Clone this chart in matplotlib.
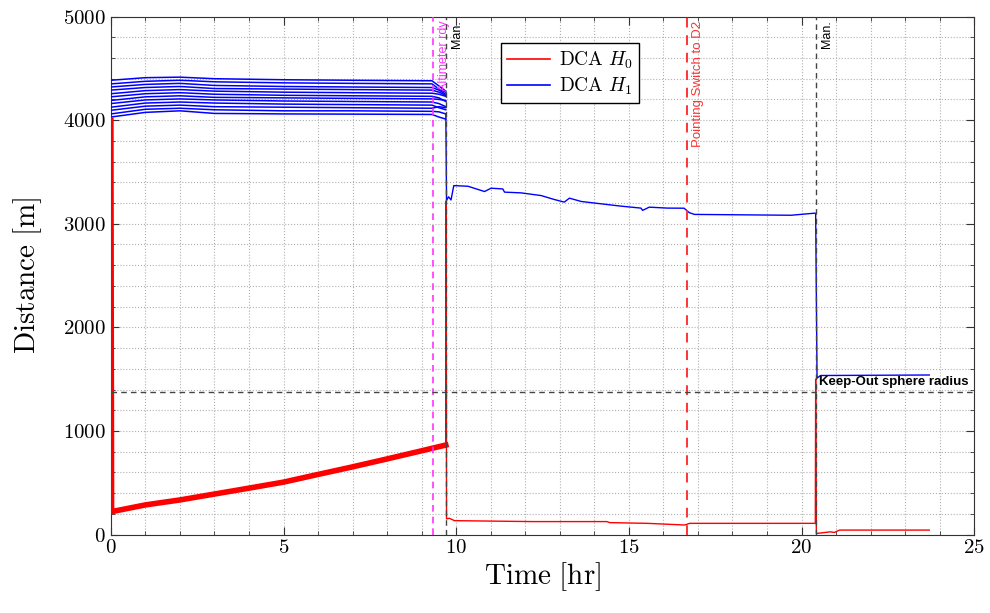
import numpy as np
import matplotlib
matplotlib.use("Agg")
import matplotlib.pyplot as plt
from matplotlib.ticker import MultipleLocator

plt.rcParams['font.family'] = ['cmr10', 'DejaVu Serif']
plt.rcParams['mathtext.fontset'] = 'cm'
plt.rcParams['axes.formatter.use_mathtext'] = True

# --- DCA H1: bundle of trajectories before the first manoeuvre ---
t_bundle = [0, 1, 2, 3, 5, 7, 9.3, 9.5, 9.7]
h1_bundle = [
    [4385, 4410, 4415, 4400, 4390, 4385, 4380, 4330, 4280],
    [4350, 4375, 4385, 4370, 4360, 4355, 4350, 4300, 4270],
    [4320, 4345, 4355, 4335, 4325, 4320, 4315, 4290, 4250],
    [4290, 4315, 4325, 4305, 4300, 4295, 4290, 4270, 4240],
    [4255, 4285, 4295, 4280, 4270, 4265, 4260, 4250, 4230],
    [4225, 4255, 4265, 4250, 4240, 4235, 4230, 4215, 4180],
    [4190, 4225, 4235, 4220, 4215, 4210, 4205, 4200, 4190],
    [4160, 4195, 4205, 4195, 4185, 4180, 4175, 4160, 4130],
    [4125, 4165, 4175, 4165, 4155, 4150, 4145, 4120, 4100],
    [4095, 4135, 4145, 4130, 4125, 4120, 4115, 4130, 4120],
    [4060, 4105, 4115, 4100, 4090, 4090, 4085, 4080, 4060],
    [4030, 4075, 4090, 4065, 4060, 4058, 4055, 4030, 4010],
]

# --- DCA H1 after the first manoeuvre ---
t_h1 = [9.7, 9.72, 9.78, 9.85, 9.93, 10.34, 10.82, 11.01, 11.35, 11.4, 11.88,
        12.46, 12.84, 13.13, 13.28, 13.62, 14.0, 14.77, 15.35, 15.4, 15.59,
        16.12, 16.6, 16.75, 16.9, 19.7, 20.38, 20.41, 20.45, 20.55, 23.7]
h1 = [4060, 3225, 3260, 3230, 3368, 3362, 3311, 3343, 3336, 3305, 3298,
      3272, 3234, 3209, 3247, 3215, 3200, 3170, 3151, 3129, 3160,
      3151, 3150, 3107, 3090, 3082, 3102, 3100, 1510, 1535, 1540]

# --- DCA H0 ---
t_h0_a = [0, 0.02, 1, 2, 2.86, 4, 5, 5.97, 6.94, 8, 8.88, 9.7]
h0_a = [4000, 221, 286, 334, 383, 448, 506, 578, 649, 730, 799, 864]

t_h0_b = [9.7, 9.71, 9.72, 9.8, 9.95, 12.2, 14.36, 14.45, 15.54, 16.62, 16.76,
          20.4, 20.41, 20.43, 20.83, 20.95, 21.1, 23.7]
h0_b = [864, 3220, 151, 157, 134, 125, 125, 115, 108, 92, 108,
        108, 1500, 10, 26, 20, 43, 43]

# events
t_altimeter = 9.34
t_man1 = 9.7
t_pointing = 16.69
t_man2 = 20.41
keep_out = 1372

fig = plt.figure(figsize=(9.9, 6.13), dpi=100)
ax = fig.add_axes([0.112, 0.128, 0.872, 0.845])

for i, vals in enumerate(h1_bundle):
    ax.plot(t_bundle, vals, color='#0000ff', lw=1.1,
            label=r'$\mathrm{DCA}\ H_1$' if i == 0 else None, zorder=3)
ax.plot(t_h1, h1, color='#0000ff', lw=1.0, zorder=3)
ax.plot(t_h0_a, h0_a, color='#ff0000', lw=4.0, zorder=4,
        label=r'$\mathrm{DCA}\ H_0$')
ax.plot(t_h0_b, h0_b, color='#ff0000', lw=1.0, zorder=4)

ax.axvline(t_altimeter, color='#ff33ff', ls=(0, (4, 3)), lw=1.2, zorder=5)
ax.axvline(t_man1, color='#444444', ls=(0, (4, 3)), lw=1.0, zorder=5)
ax.axvline(t_pointing, color='#ff3333', ls=(0, (5, 4)), lw=1.4, zorder=5)
ax.axvline(t_man2, color='#444444', ls=(0, (4, 3)), lw=1.0, zorder=5)
ax.axhline(keep_out, color='#444444', ls=(0, (4, 3)), lw=1.0, zorder=5)

sans = ['Liberation Sans', 'DejaVu Sans']
ax.text(t_altimeter + 0.12, 4960, 'Altimeter rdy', color='#ff33ff', rotation=90,
        ha='left', va='top', fontsize=9, family=sans)
ax.text(t_man1 + 0.15, 4960, 'Man.', color='black', rotation=90,
        ha='left', va='top', fontsize=9, family=sans)
ax.text(t_pointing + 0.15, 4960, 'Pointing Switch to D2', color='#ff3333',
        rotation=90, ha='left', va='top', fontsize=9.5, family=sans)
ax.text(t_man2 + 0.15, 4960, 'Man.', color='black', rotation=90,
        ha='left', va='top', fontsize=9, family=sans)
ax.text(24.85, keep_out + 40, 'Keep-Out sphere radius', color='black',
        ha='right', va='bottom', fontsize=9.5, fontweight='bold', family=sans)

ax.set_xlim(0, 25)
ax.set_ylim(0, 5000)
ax.xaxis.set_major_locator(MultipleLocator(5))
ax.xaxis.set_minor_locator(MultipleLocator(1))
ax.yaxis.set_major_locator(MultipleLocator(1000))
ax.yaxis.set_minor_locator(MultipleLocator(200))
ax.grid(which='both', ls=':', color='#b0b0b0', lw=0.8)
ax.tick_params(which='both', direction='in', top=True, right=True,
               labelsize=15, color='#333333')
ax.tick_params(which='major', length=6)
ax.tick_params(which='minor', length=3)
for s in ax.spines.values():
    s.set_color('#333333')

ax.set_xlabel(r'$\mathrm{Time\ [hr]}$', fontsize=21, labelpad=2)
ax.set_ylabel(r'$\mathrm{Distance\ [m]}$', fontsize=21, labelpad=14)

handles, labels = ax.get_legend_handles_labels()
order = [labels.index(r'$\mathrm{DCA}\ H_0$'), labels.index(r'$\mathrm{DCA}\ H_1$')]
leg = ax.legend([handles[k] for k in order], [labels[k] for k in order],
                loc='upper left', bbox_to_anchor=(0.452, 0.948), fontsize=14,
                fancybox=False, framealpha=1, edgecolor='black',
                handlelength=2.2, handletextpad=0.5, borderpad=0.3,
                labelspacing=0.25, borderaxespad=0.0)
leg.get_frame().set_linewidth(1.0)
for h in leg.legend_handles:
    h.set_linewidth(1.2)

fig.savefig('out.png', dpi=100)
